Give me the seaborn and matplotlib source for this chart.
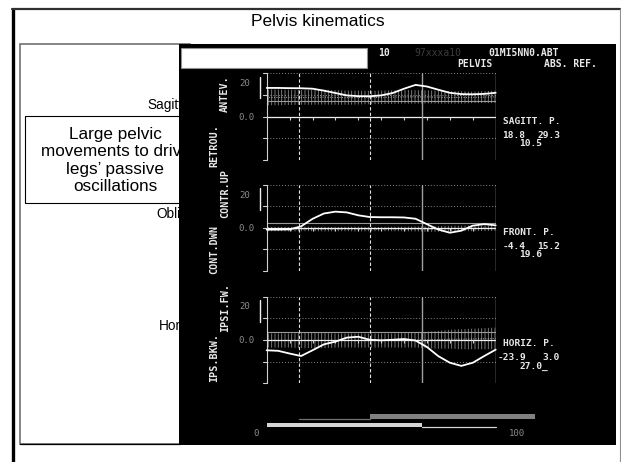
import matplotlib
matplotlib.use("Agg")
import matplotlib.pyplot as plt
import matplotlib.transforms as mtransforms
from matplotlib.patches import Rectangle
import pandas as pd
import seaborn as sns

sns.set_theme(style="white")
plt.rcParams["font.family"] = ["Liberation Sans", "DejaVu Sans"]
plt.rcParams["hatch.linewidth"] = 0.6

# ---- gait-cycle kinematics (degrees, % of cycle) ----
pct = [0, 5, 10, 15, 20, 25, 30, 35, 40, 45, 50, 55, 60, 65, 70, 75, 80, 85, 90, 95, 100]
sagittal = [26.5, 26.5, 26.3, 26.2, 25.8, 24.0, 21.8, 19.6, 18.9, 18.8, 19.6, 21.8, 25.8,
            29.3, 27.8, 24.8, 22.0, 20.8, 20.6, 21.0, 22.0]
frontal = [-1.5, -1.5, -1.3, 1.5, 8.5, 13.5, 15.2, 14.5, 11.8, 10.2, 10.0, 10.0, 9.8,
           8.6, 3.5, -1.5, -4.4, -2.5, 2.2, 3.6, 2.5]
horizontal = [-9.5, -10.0, -12.5, -14.8, -9.5, -4.0, -1.5, 2.2, 3.0, 0.2, -0.3, 0.2, 0.9,
              -0.5, -6.5, -15.0, -21.0, -23.9, -21.0, -14.8, -8.9]

# normative corridors
sag_lo = [10.5, 10.5, 10.8, 11.0, 11.0, 11.2, 11.0, 11.0, 11.2, 11.5, 11.5, 11.8, 12.0,
          12.0, 12.2, 12.0, 12.0, 12.0, 12.5, 12.5, 12.5]
sag_hi = [25.0, 25.0, 24.8, 24.5, 24.5, 24.8, 24.5, 24.0, 24.0, 23.8, 24.0, 24.2, 24.5,
          24.5, 24.2, 24.0, 23.5, 23.5, 23.0, 23.5, 24.0]
fro_lo = [-3.0, -3.0, -3.2, -3.0, -3.0, -3.2, -3.0, -3.0, -3.2, -3.0, -3.0, -3.0, -3.0,
          -3.2, -3.5, -3.5, -3.2, -3.0, -3.0, -2.8, -2.8]
fro_hi = [1.0, 1.0, 1.0, 1.2, 1.2, 1.0, 1.0, 1.2, 1.2, 1.0, 1.0, 1.2, 1.2,
          1.5, 1.5, 1.8, 2.0, 2.2, 2.5, 2.5, 2.5]
hor_lo = [-7.0, -7.0, -7.0, -7.5, -7.5, -7.5, -7.0, -7.0, -7.0, -7.0, -7.0, -7.0, -7.0,
          -7.0, -7.5, -8.0, -8.0, -8.5, -8.5, -8.5, -8.5]
hor_hi = [6.0, 6.0, 6.0, 6.5, 6.5, 6.5, 6.0, 6.0, 6.0, 6.0, 6.0, 6.0, 6.5,
          7.0, 7.5, 8.5, 9.5, 10.0, 10.5, 11.0, 11.5]
ref_levels = [14.5, 4.5, 7.4]

plane_names = ["SAGITT. P.", "FRONT. P.", "HORIZ. P."]
plane_stats = [("18.8", "29.3", "10.5"), ("-4.4", "15.2", "19.6"), ("-23.9", "3.0", "27.0_")]
pos_labels = ["ANTEV.", "CONTR.UP", "IPSI.FW."]
neg_labels = ["RETROU.", "CONT.DWN", "IPS.BKW."]
slide_planes = ["Sagittal", "Oblique", "Horizontal"]

dashed_events = [14, 45]      # opposite toe off, opposite foot contact
solid_events = [68, 100]      # toe off, end of cycle
ipsi_stance = (0, 68)
ipsi_swing = (68, 100)
contra_swing = (14, 45)
contra_stance = (45, 117)
y_ticks = [-40, -20, 0, 20, 40]

W, H = 621, 462
fig = plt.figure(figsize=(W / 100, H / 100), dpi=100)
fig.patch.set_facecolor("white")

# background canvas in pixel units
bg = fig.add_axes([0, 0, 1, 1])
bg.set_xlim(0, W)
bg.set_ylim(H, 0)
bg.set_axis_off()

# slide frame
bg.plot([12.7, 12.7], [8.5, 470], color="black", lw=2.4, solid_capstyle="butt", zorder=1)
bg.plot([11.5, 620], [8.5, 8.5], color="#303030", lw=1.6, zorder=1)
bg.plot([619.5, 619.5], [8.5, 470], color="#909090", lw=0.8, zorder=1)
bg.text(318, 22, "Pelvis kinematics", fontsize=12.5, ha="center", va="center", color="black")

# left white panel
bg.add_patch(Rectangle((20, 44), 170, 400, facecolor="white", edgecolor="#707070", lw=1.2, zorder=1))
bg.plot([20, 180], [444, 444], color="black", lw=0.9, zorder=1.1)
bg.add_patch(Rectangle((25, 115.7), 175, 87.6, facecolor="none", edgecolor="black", lw=0.8, zorder=2))
bg.text(115.5, 160.5, "Large pelvic\nmovements to drive\nlegs\u2019 passive\noscillations",
        fontsize=12.3, ha="center", va="center", linespacing=1.2, color="black", zorder=2)
for name, (xx, yy) in zip(slide_planes, [(147, 105), (156, 214), (158.5, 326)]):
    bg.text(xx, yy, name, fontsize=9.8, ha="left", va="center", color="black", zorder=2)

# black report image
bg.add_patch(Rectangle((178.5, 44), 437.5, 401, facecolor="black", edgecolor="none", zorder=3))
bg.add_patch(Rectangle((181, 48.3), 185.5, 20, facecolor="white", edgecolor="#909090", lw=0.8, zorder=4))

mono = ["DejaVu Sans Mono"]
txt = dict(family=mono, color="#e8e8e8", va="center", zorder=5)
bg.text(384, 52.5, "10", fontsize=7, ha="center", weight="bold", **txt)
bg.text(438, 52.5, "97xxxa10", fontsize=7, ha="center", family=mono, color="#3c3c3c", va="center", zorder=5)
bg.text(523.5, 52.5, "01MI5NN0.ABT", fontsize=7, ha="center", weight="bold", **txt)
bg.text(474.5, 64, "PELVIS", fontsize=7, ha="center", weight="bold", **txt)
bg.text(570, 64, "ABS. REF.", fontsize=7, ha="center", weight="bold", **txt)

X0, X1 = 266.7, 495.7
panel_px = [(73.3, 160.0), (185.0, 271.0), (296.7, 383.3)]
curves = [sagittal, frontal, horizontal]
bands = [(sag_lo, sag_hi), (fro_lo, fro_hi), (hor_lo, hor_hi)]
pos_y = [94, 193, 307]
neg_y = [146, 249, 358]
title_y = [122, 232.7, 344]

for i, (top, bot) in enumerate(panel_px):
    ax = fig.add_axes([X0 / W, 1 - bot / H, (X1 - X0) / W, (bot - top) / H])
    ax.set_facecolor("none")
    ax.set_xlim(0, 100)
    ax.set_ylim(-40, 40)
    ax.set_axis_off()
    ax.set_zorder(10)

    for g in [-40, -20, 20, 40]:
        ax.axhline(g, color="#8a8a8a", lw=0.7, ls=(0, (1, 2)))
    lo, hi = bands[i]
    ax.fill_between(pct, lo, hi, facecolor="none", edgecolor="#8a8a8a", hatch="|||||", lw=0)
    ax.plot(pct, [(a + b) / 2 for a, b in zip(lo, hi)], color="#b0b0b0", lw=0.7, ls=(0, (1, 1.5)))
    ax.axhline(ref_levels[i], color="#9a9a9a", lw=0.8)
    ax.axhline(0, color="#f0f0f0", lw=0.9)
    ax.vlines(range(10, 100, 10), -3, 0, color="#d0d0d0", lw=0.8)

    for ev in dashed_events:
        ax.axvline(ev, color="#e0e0e0", lw=0.8, ls=(0, (3, 2)))
    ax.axvline(solid_events[0], color="#a0a0a0", lw=1.0)
    ax.axvline(solid_events[1], color="#c8c8c8", lw=1.0)

    # left axis with outward ticks
    ax.plot([0, 0], [-40, 40], color="#d0d0d0", lw=0.8, clip_on=False)
    blend = mtransforms.blended_transform_factory(ax.transAxes, ax.transData)
    for t in y_ticks:
        ax.plot([-0.014, 0], [t, t], color="#d0d0d0", lw=0.8, transform=blend, clip_on=False)
    ax.plot([-0.03, -0.03], [17, 37], color="#f0f0f0", lw=1.0, transform=blend, clip_on=False)

    df = pd.DataFrame({"pct": pct, "angle": curves[i]})
    sns.lineplot(data=df, x="pct", y="angle", ax=ax, color="white", lw=1.3,
                 legend=False, clip_on=False)
    ax.set_axis_off()

    # scale labels and axis names
    y0 = top + (bot - top) / 2
    bg.text(245, top + 10, "20", fontsize=6.5, ha="center", family=mono, color="#8c8c8c", va="center", zorder=5)
    bg.text(246.5, y0 + 0.5, "0.0", fontsize=6.5, ha="center", family=mono, color="#8c8c8c", va="center", zorder=5)
    bg.text(225, pos_y[i], pos_labels[i], fontsize=7.3, ha="center", rotation=90, weight="bold", **txt)
    bg.text(214, neg_y[i], neg_labels[i], fontsize=7.3, ha="center", rotation=90, weight="bold", **txt)

    mn, mx, rg = plane_stats[i]
    ty = title_y[i]
    bg.text(503, ty, plane_names[i], fontsize=6.8, ha="left", weight="bold", **txt)
    bg.text(502.5 if i < 2 else 498, ty + 14, mn, fontsize=6.8, ha="left", weight="bold", **txt)
    bg.text(560, ty + 14, mx, fontsize=6.8, ha="right", weight="bold", **txt)
    bg.text(519, ty + 22, rg, fontsize=6.8, ha="left", weight="bold", **txt)

# foot-contact bars under the panels
axb = fig.add_axes([X0 / W, 1 - 432 / H, (X1 - X0) / W, 22 / H])
axb.set_facecolor("none")
axb.set_xlim(0, 100)
axb.set_ylim(432, 410)
axb.set_axis_off()
axb.set_zorder(10)
axb.barh(416.7, contra_stance[1] - contra_stance[0], left=contra_stance[0], height=5,
         color="#808080", edgecolor="none", linewidth=0, clip_on=False)
axb.plot(contra_swing, [418.6, 418.6], color="#707070", lw=0.9, clip_on=False)
axb.barh(425, ipsi_stance[1] - ipsi_stance[0], left=ipsi_stance[0], height=4.6,
         color="#d4d4d4", edgecolor="none", linewidth=0, clip_on=False)
axb.plot(ipsi_swing, [427, 427], color="#d4d4d4", lw=0.9, clip_on=False)

bg.text(256, 433, "0", fontsize=6.5, ha="center", family=mono, color="#8c8c8c", va="center", zorder=5)
bg.text(516.7, 433, "100", fontsize=6.5, ha="center", family=mono, color="#8c8c8c", va="center", zorder=5)

fig.savefig("out.png", dpi=100, facecolor="white")
